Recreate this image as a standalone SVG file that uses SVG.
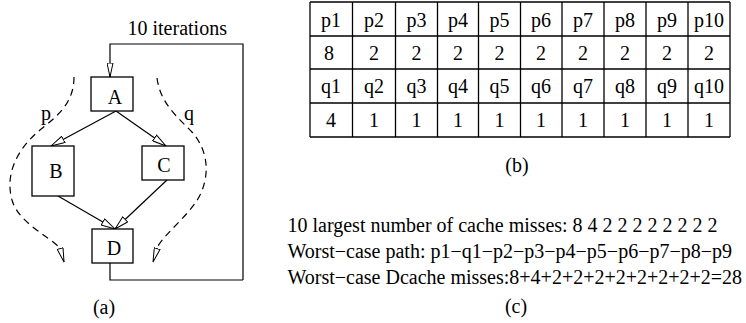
<svg xmlns="http://www.w3.org/2000/svg" width="746" height="323" viewBox="0 0 746 323">
<defs>
<style>
text{font-family:"Liberation Serif","Times New Roman",serif;font-size:20px;fill:#000}
.box{fill:#fff;stroke:#000;stroke-width:1.3}
.edge{fill:none;stroke:#000;stroke-width:1.2}
.dash{fill:none;stroke:#000;stroke-width:1.2;stroke-dasharray:7 5}
.grid line{stroke:#000;stroke-width:1.3}
.c{text-anchor:middle}
</style>
<marker id="ah" markerUnits="userSpaceOnUse" viewBox="0 0 15 8" refX="14.5" refY="4" markerWidth="15" markerHeight="8" orient="auto">
<path d="M0.5,0.5 L14.5,4 L0.5,7.5 Z" fill="#fff" stroke="#000" stroke-width="1"/>
</marker>
<marker id="vh" markerUnits="userSpaceOnUse" viewBox="0 0 15 7" refX="14.5" refY="3.5" markerWidth="15" markerHeight="7" orient="auto">
<path d="M0.5,0.5 L14.5,3.5 L0.5,6.5 Z" fill="#fff" stroke="#000" stroke-width="1"/>
</marker>
</defs>
<rect width="746" height="323" fill="#fff"/>

<g id="connectors">
<path class="edge" d="M243,280 L243,44 L110,44 L110,77" marker-end="url(#vh)"/>
<path class="edge" d="M110,263 L110,280 L243,280"/>
<line class="edge" x1="116" y1="111" x2="51" y2="146" marker-end="url(#ah)"/>
<line class="edge" x1="116" y1="111" x2="166" y2="146" marker-end="url(#ah)"/>
<line class="edge" x1="58" y1="196" x2="115" y2="229" marker-end="url(#ah)"/>
<line class="edge" x1="167" y1="180" x2="115" y2="229" marker-end="url(#ah)"/>
<path class="dash" d="M74,77 C74,104 56,117 40,130 C16,150 5,175 12,200 C18,222 48,236 60,248 L64,262" marker-end="url(#vh)"/>
<path class="dash" d="M157,78 C160,102 176,116 191,131 C206,147 211,170 201,193 C192,213 168,230 158,246 L153,262" marker-end="url(#vh)"/>
</g>

<g id="label-iterations"><text x="127.5" y="35">10 iterations</text></g>
<g id="label-p"><text x="46" y="120" class="c">p</text></g>
<g id="label-q"><text x="189" y="120" class="c">q</text></g>

<g id="node-A"><rect class="box" x="91" y="77" width="42" height="34"/><text x="115" y="104" class="c">A</text></g>
<g id="node-B"><rect class="box" x="32" y="146" width="42" height="50"/><text x="56" y="178" class="c">B</text></g>
<g id="node-C"><rect class="box" x="142" y="146" width="42" height="34"/><text x="164" y="172" class="c">C</text></g>
<g id="node-D"><rect class="box" x="92" y="229" width="41" height="34"/><text x="114" y="255" class="c">D</text></g>

<g id="caption-a"><text x="104" y="314" class="c">(a)</text></g>

<g id="table">
<g class="grid">
<line x1="310" y1="2" x2="730" y2="2"/>
<line x1="310" y1="36" x2="730" y2="36"/>
<line x1="310" y1="69" x2="730" y2="69"/>
<line x1="310" y1="103" x2="730" y2="103"/>
<line x1="310" y1="137" x2="730" y2="137"/>
<line x1="310" y1="2" x2="310" y2="137"/>
<line x1="352.5" y1="2" x2="352.5" y2="137"/>
<line x1="395.5" y1="2" x2="395.5" y2="137"/>
<line x1="437.5" y1="2" x2="437.5" y2="137"/>
<line x1="478.5" y1="2" x2="478.5" y2="137"/>
<line x1="520.5" y1="2" x2="520.5" y2="137"/>
<line x1="562" y1="2" x2="562" y2="137"/>
<line x1="604" y1="2" x2="604" y2="137"/>
<line x1="646" y1="2" x2="646" y2="137"/>
<line x1="688" y1="2" x2="688" y2="137"/>
<line x1="730" y1="2" x2="730" y2="137"/>
</g>
<g class="c">
<text x="331" y="27" class="c">p1</text><text x="374" y="27" class="c">p2</text><text x="416.5" y="27" class="c">p3</text><text x="458" y="27" class="c">p4</text><text x="499.5" y="27" class="c">p5</text><text x="541" y="27" class="c">p6</text><text x="583" y="27" class="c">p7</text><text x="625" y="27" class="c">p8</text><text x="667" y="27" class="c">p9</text><text x="709" y="27" class="c">p10</text>
<text x="329" y="60" class="c">8</text><text x="374" y="60" class="c">2</text><text x="416.5" y="60" class="c">2</text><text x="458" y="60" class="c">2</text><text x="499.5" y="60" class="c">2</text><text x="541" y="60" class="c">2</text><text x="583" y="60" class="c">2</text><text x="625" y="60" class="c">2</text><text x="667" y="60" class="c">2</text><text x="709" y="60" class="c">2</text>
<text x="331" y="93" class="c">q1</text><text x="374" y="93" class="c">q2</text><text x="416.5" y="93" class="c">q3</text><text x="458" y="93" class="c">q4</text><text x="499.5" y="93" class="c">q5</text><text x="541" y="93" class="c">q6</text><text x="583" y="93" class="c">q7</text><text x="625" y="93" class="c">q8</text><text x="667" y="93" class="c">q9</text><text x="709" y="93" class="c">q10</text>
<text x="331" y="127" class="c">4</text><text x="374" y="127" class="c">1</text><text x="416.5" y="127" class="c">1</text><text x="458" y="127" class="c">1</text><text x="499.5" y="127" class="c">1</text><text x="541" y="127" class="c">1</text><text x="583" y="127" class="c">1</text><text x="625" y="127" class="c">1</text><text x="667" y="127" class="c">1</text><text x="709" y="127" class="c">1</text>
</g>
</g>

<g id="caption-b"><text x="517" y="172" class="c">(b)</text></g>

<g id="summary">
<text x="287.5" y="232">10 largest number of cache misses: 8 4 2 2 2 2 2 2 2 2</text>
<text x="287.5" y="258">Worst−case path: p1−q1−p2−p3−p4−p5−p6−p7−p8−p9</text>
<text x="287.5" y="284">Worst−case Dcache misses:8+4+2+2+2+2+2+2+2+2=28</text>
</g>

<g id="caption-c"><text x="516" y="313" class="c">(c)</text></g>
</svg>
